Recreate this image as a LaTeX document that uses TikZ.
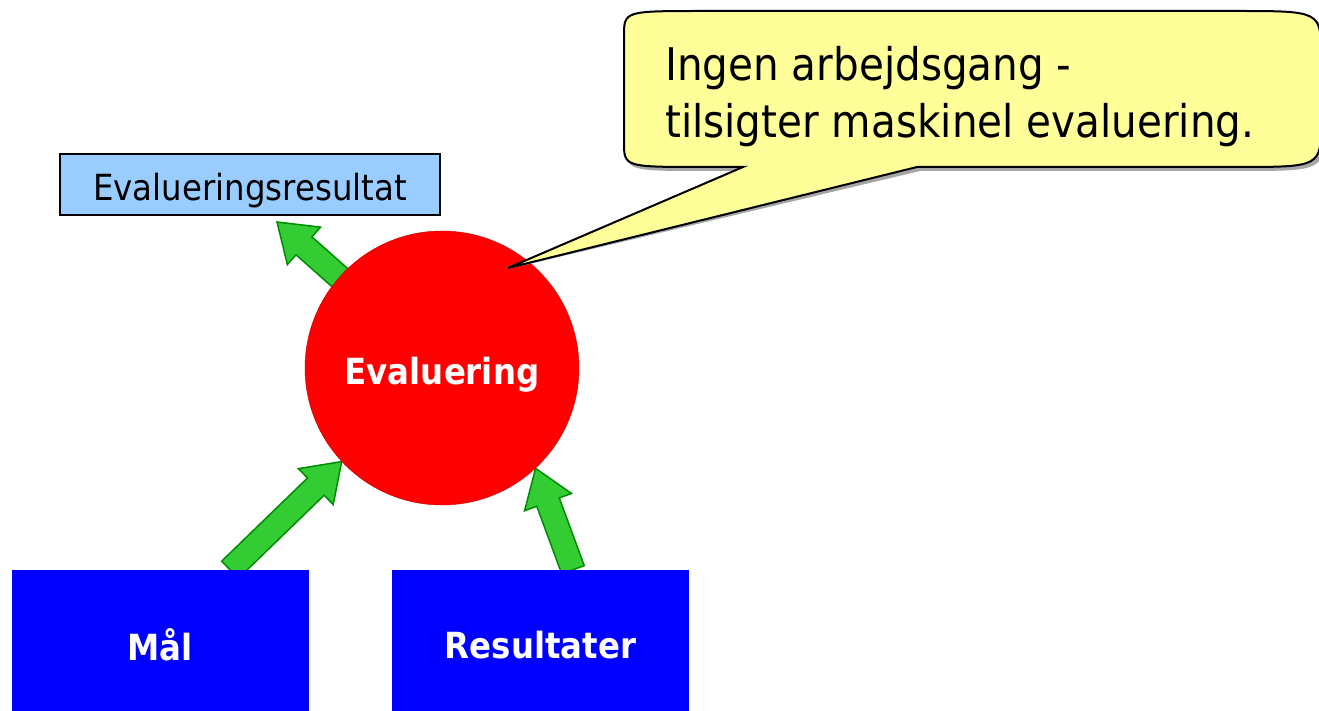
\documentclass[tikz,border=0pt]{standalone}
\usepackage{fontspec}
\setmainfont{DejaVu Sans}[FakeStretch=0.9]
\usetikzlibrary{calc}
\usetikzlibrary{backgrounds}
\definecolor{evalred}{RGB}{255,0,0}
\definecolor{evaledge}{RGB}{200,0,0}
\definecolor{resblue}{RGB}{153,204,255}
\definecolor{goalblue}{RGB}{0,0,255}
\definecolor{arrowgreen}{RGB}{51,204,51}
\definecolor{arrowedge}{RGB}{0,140,0}
\definecolor{noteyellow}{RGB}{255,255,153}

% fat green block arrow from #1 to #2
\newcommand{\fatarrow}[2]{%
  \coordinate (h) at ($(#2)!36pt!(#1)$);
  \filldraw [greenarrow] ($(#1)!12pt!-90:(#2)$) -- ($(h)!12pt!-90:(#2)$) -- ($(h)!25pt!-90:(#2)$) -- (#2)
    -- ($(h)!25pt!90:(#2)$) -- ($(h)!12pt!90:(#2)$) -- ($(#1)!12pt!90:(#2)$) -- cycle;}

\newcommand{\notepath}[1]{%
  \filldraw [#1] (704,11) -- (1236,11) .. controls (1321,11) .. (1321,56) -- (1321,122)
    .. controls (1321,167) .. (1236,167) -- (917,167) -- (calltip) -- (743,167) -- (704,167)
    .. controls (624,167) .. (624,142) -- (624,36) .. controls (624,11) .. (704,11) -- cycle;}

\begin{document}
\begin{tikzpicture}[x=1pt,y=-1pt,
  bigfont/.style={font=\fontsize{36}{43}\selectfont},
  boldfont/.style={font=\bfseries\fontsize{36}{43}\selectfont},
  lowtext/.style={text height=36pt,text depth=3pt},
  evalcircle/.style={circle,draw=evaledge,fill=evalred,minimum size=274pt,text=white,boldfont},
  goalbox/.style={rectangle,fill=goalblue,minimum width=297pt,minimum height=150pt,text=white,boldfont},
  greenarrow/.style={fill=arrowgreen,draw=arrowedge,line width=1.5pt,line join=miter}]
\useasboundingbox (0,0) rectangle (1319,711);

\node [evalcircle,lowtext] (eval) at (442,368) {Evaluering};
\node [rectangle,draw,line width=2pt,fill=resblue,minimum width=380pt,minimum height=61pt,bigfont,lowtext] (result) at (250,184.5) {Evalueringsresultat};
\node [goalbox] (maal) at (160,645) {Mål};
\node [goalbox] (res) at (540.5,645) {Resultater};

\coordinate (restip) at ([shift={(27pt,-6pt)}]result.south);
\coordinate (maalout) at ([xshift=70pt]maal.north);
\coordinate (resout) at ([xshift=32.5pt]res.north);
\coordinate (calltip) at (508,268);

\begin{scope}[on background layer]
\fatarrow{eval.center}{restip}
\fatarrow{maalout}{eval.223.5}
\fatarrow{resout}{eval.313.5}
\end{scope}

% speech bubble
\notepath{fill=gray!70,draw=gray!70,line width=2pt,shift={(3,3)}}
\notepath{fill=noteyellow,draw=black,line width=2pt}
\node [anchor=north west,align=left,inner sep=0pt,font=\fontsize{45}{57}\selectfont] (note) at (665,46) {Ingen arbejdsgang -\\tilsigter maskinel evaluering.};
\end{tikzpicture}
\end{document}
